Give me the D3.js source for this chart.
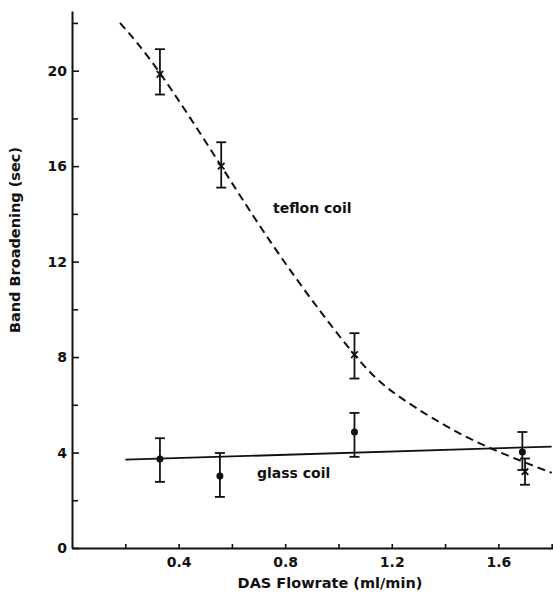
<!DOCTYPE html>
<html>
<head>
<meta charset="utf-8">
<script src="https://cdn.jsdelivr.net/npm/d3@7"></script>
<style>
  body { margin: 0; background: #fff; }
  text { font-family: "DejaVu Sans", sans-serif; font-weight: bold; fill: #111; }
</style>
</head>
<body>
<svg width="553" height="592"></svg>
<script>
// measured points (flowrate ml/min, band broadening sec)
var teflonX = [0.33, 0.56, 1.06, 1.70];
var teflonY = [19.85, 16.0, 8.1, 3.2];
var teflonLo = [19.0, 15.1, 7.1, 2.65];
var teflonHi = [20.9, 17.0, 9.0, 3.75];

var glassX = [0.33, 0.555, 1.06, 1.69];
var glassY = [3.73, 3.02, 4.86, 4.02];
var glassLo = [2.77, 2.14, 3.82, 3.27];
var glassHi = [4.6, 3.98, 5.66, 4.86];

// drawn curves
var teflonCurveX = [0.18, 0.33, 0.56, 0.79, 1.06, 1.24, 1.49, 1.8];
var teflonCurveY = [22.0, 19.9, 16.0, 12.1, 8.1, 6.25, 4.6, 3.15];
var glassLineX = [0.2, 1.8];
var glassLineY = [3.7, 4.25];

var yMajor = [0, 4, 8, 12, 16, 20];
var yMinor = [2, 6, 10, 14, 18, 22];
var xTicks = [0.2, 0.4, 0.6, 0.8, 1.0, 1.2, 1.4, 1.6, 1.8];
var xLabels = [0.4, 0.8, 1.2, 1.6];

var x = d3.scaleLinear().domain([0, 1.805]).range([72, 553]);
var y = d3.scaleLinear().domain([0, 22.5]).range([548, 11]);

var svg = d3.select("svg");

function styleAxis(g) {
  g.select(".domain").attr("stroke", "#111").attr("stroke-width", 2);
  g.selectAll(".tick line").attr("stroke", "#111").attr("stroke-width", 1.6);
  g.selectAll("text").attr("font-size", 14).attr("fill", "#111");
}

// y axis
svg.append("g")
  .attr("transform", "translate(" + x(0) + ",0)")
  .call(d3.axisLeft(y).tickValues(yMajor).tickSize(-7).tickPadding(5).tickSizeOuter(0))
  .call(styleAxis);

svg.append("g")
  .attr("transform", "translate(" + x(0) + ",0)")
  .call(d3.axisLeft(y).tickValues(yMinor).tickSize(-6).tickFormat("").tickSizeOuter(0))
  .call(function(g) { g.select(".domain").remove(); g.selectAll(".tick line").attr("stroke", "#111").attr("stroke-width", 1.6); });

// x axis
svg.append("g")
  .attr("transform", "translate(0," + y(0) + ")")
  .call(d3.axisBottom(x).tickValues(xTicks).tickSize(-4).tickPadding(9).tickSizeOuter(0)
    .tickFormat(function(d) { return xLabels.some(function(v) { return Math.abs(v - d) < 1e-6; }) ? d3.format(".1f")(d) : ""; }))
  .call(styleAxis);

// axis titles
svg.append("text")
  .attr("x", 330).attr("y", 588)
  .attr("text-anchor", "middle")
  .attr("font-size", 14.5)
  .text("DAS Flowrate (ml/min)");

svg.append("text")
  .attr("transform", "translate(20,240) rotate(-90)")
  .attr("text-anchor", "middle")
  .attr("font-size", 14.5)
  .text("Band Broadening (sec)");

// lines
var line = d3.line()
  .x(function(d) { return x(d[0]); })
  .y(function(d) { return y(d[1]); });

svg.append("path")
  .datum(d3.zip(teflonCurveX, teflonCurveY))
  .attr("d", line.curve(d3.curveNatural))
  .attr("fill", "none")
  .attr("stroke", "#111")
  .attr("stroke-width", 2)
  .attr("stroke-dasharray", "8,5");

svg.append("path")
  .datum(d3.zip(glassLineX, glassLineY))
  .attr("d", line.curve(d3.curveLinear))
  .attr("fill", "none")
  .attr("stroke", "#111")
  .attr("stroke-width", 1.8);

// error bars
function errorBars(xs, lo, hi) {
  var g = svg.append("g").attr("stroke", "#111").attr("stroke-width", 1.8);
  xs.forEach(function(v, i) {
    g.append("line").attr("x1", x(v)).attr("x2", x(v)).attr("y1", y(lo[i])).attr("y2", y(hi[i]));
    g.append("line").attr("x1", x(v) - 5).attr("x2", x(v) + 5).attr("y1", y(lo[i])).attr("y2", y(lo[i]));
    g.append("line").attr("x1", x(v) - 5).attr("x2", x(v) + 5).attr("y1", y(hi[i])).attr("y2", y(hi[i]));
  });
}
errorBars(teflonX, teflonLo, teflonHi);
errorBars(glassX, glassLo, glassHi);

// markers
svg.append("g").selectAll("path")
  .data(d3.zip(teflonX, teflonY))
  .enter().append("path")
  .attr("d", d3.symbol(d3.symbolX, 30))
  .attr("transform", function(d) { return "translate(" + x(d[0]) + "," + y(d[1]) + ")"; })
  .attr("fill", "none")
  .attr("stroke", "#111")
  .attr("stroke-width", 1.8);

svg.append("g").selectAll("circle")
  .data(d3.zip(glassX, glassY))
  .enter().append("circle")
  .attr("cx", function(d) { return x(d[0]); })
  .attr("cy", function(d) { return y(d[1]); })
  .attr("r", 3.5)
  .attr("fill", "#111");

// series labels
svg.append("text").attr("x", 273).attr("y", 213).attr("font-size", 14).text("teflon coil");
svg.append("text").attr("x", 257).attr("y", 478).attr("font-size", 14).text("glass coil");
</script>
</body>
</html>
